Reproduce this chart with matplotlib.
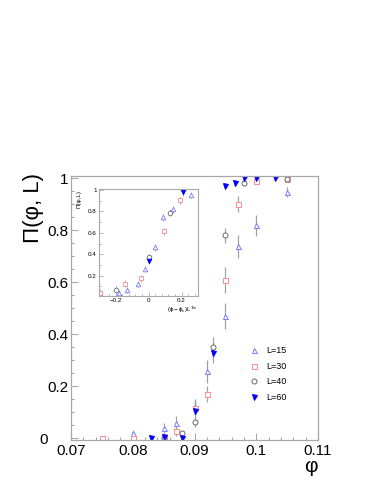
import matplotlib
matplotlib.use("Agg")
import matplotlib.pyplot as plt
from matplotlib.ticker import MultipleLocator, FixedLocator
from matplotlib.transforms import ScaledTranslation

plt.rcParams['font.family'] = ['Liberation Sans', 'DejaVu Sans']
plt.rcParams['mathtext.fontset'] = 'custom'
plt.rcParams['mathtext.rm'] = 'Liberation Sans'
plt.rcParams['mathtext.it'] = 'Liberation Sans'

# ---- main plot data ----
x_L15 = [0.075, 0.080, 0.085, 0.087, 0.090, 0.092, 0.095, 0.097, 0.100, 0.105]
y_L15 = [0.0, 0.02, 0.04, 0.06, 0.12, 0.258, 0.47, 0.738, 0.818, 0.947]
e_L15 = [0.005, 0.012, 0.02, 0.025, 0.03, 0.045, 0.05, 0.045, 0.04, 0.02]

x_L30 = [0.075, 0.080, 0.085, 0.087, 0.090, 0.092, 0.095, 0.097, 0.100, 0.105]
y_L30 = [0.0, 0.0, 0.01, 0.03, 0.117, 0.17, 0.61, 0.90, 0.99, 0.996]
e_L30 = [0.003, 0.003, 0.01, 0.02, 0.03, 0.03, 0.05, 0.03, 0.01, 0.005]

x_L40 = [0.085, 0.088, 0.090, 0.093, 0.095, 0.098, 0.105]
y_L40 = [0.0, 0.02, 0.063, 0.35, 0.78, 0.98, 0.996]
e_L40 = [0.003, 0.01, 0.02, 0.04, 0.03, 0.01, 0.005]

x_L60 = [0.083, 0.085, 0.088, 0.090, 0.093, 0.095, 0.0965, 0.098, 0.100, 0.103]
y_L60 = [0.0, 0.005, 0.0, 0.105, 0.33, 0.97, 0.98, 1.0, 1.0, 1.0]
e_L60 = [0.002, 0.005, 0.003, 0.03, 0.04, 0.01, 0.01, 0.003, 0.002, 0.002]

# ---- inset (scaling collapse) data ----
ix_L15 = [-0.294, -0.177, -0.132, -0.065, -0.023, 0.041, 0.088, 0.148, 0.258]
iy_L15 = [0.035, 0.04, 0.064, 0.12, 0.26, 0.465, 0.745, 0.82, 0.956]
ix_L30 = [-0.294, -0.145, -0.047, 0.092, 0.19]
iy_L30 = [0.035, 0.125, 0.175, 0.614, 0.904]
ix_L40 = [-0.2, 0.0, 0.132]
iy_L40 = [0.07, 0.37, 0.79]
ix_L60 = [0.0, 0.207]
iy_L60 = [0.337, 0.978]

labels = ["L=15", "L=30", "L=40", "L=60"]
colors = ["#7878ff", "#ff8a8a", "#6a6a6a", "#0000ff"]
markers = ["^", "s", "o", "v"]
filled = [False, False, False, True]
ecol = "#a0a0a0"
framecol = "#a8a8a8"

fig = plt.figure(figsize=(3.82, 4.94), dpi=100)
ax = fig.add_axes([71/382, 1-440/494, 247/382, 264/494])

series = [(x_L15, y_L15, e_L15), (x_L30, y_L30, e_L30),
          (x_L40, y_L40, e_L40), (x_L60, y_L60, e_L60)]
handles = []
for (xs, ys, es), lab, c, m, f in zip(series, labels, colors, markers, filled):
    ax.errorbar(xs, ys, yerr=es, fmt="none", ecolor=ecol, elinewidth=0.9, capsize=0, zorder=1)
    h, = ax.plot(xs, ys, linestyle="none", marker=m, ms=3.6, mew=0.7,
                 mec=c, mfc=(c if f else "white"), label=lab, zorder=2)
    handles.append(h)

ax.set_xlim(0.07, 0.11)
ax.set_ylim(-0.006, 1.008)
ax.xaxis.set_major_locator(FixedLocator([0.07, 0.08, 0.09, 0.10, 0.11]))
ax.set_xticklabels(["0.07", "0.08", "0.09", "0.1", "0.11"])
ax.xaxis.set_minor_locator(MultipleLocator(0.002))
ax.yaxis.set_major_locator(FixedLocator([0, 0.2, 0.4, 0.6, 0.8, 1.0]))
ax.set_yticklabels(["0", "0.2", "0.4", "0.6", "0.8", "1"])
ax.yaxis.set_minor_locator(MultipleLocator(0.05))
ax.tick_params(which="both", direction="in", color=framecol, top=False, right=False,
               labelsize=11)
ax.tick_params(which="major", length=5, width=0.8, pad=2)
ax.tick_params(axis="x", which="major", pad=3)
ax.tick_params(which="minor", length=2.5, width=0.8)
for s in ax.spines.values():
    s.set_color(framecol)
    s.set_linewidth(0.9)

# shift the "0" y tick label left (as in the reference, it sits left of the others)
zero_lab = ax.get_yticklabels()[0]
zero_lab.set_transform(zero_lab.get_transform() + ScaledTranslation(-0.2, 0.0, fig.dpi_scale_trans))

fig.text(33/382, 1-208/494, "Π(φ, L)", rotation=90, ha="center", va="center", fontsize=16)
fig.text(318/382, 1-466/494, "φ", ha="right", va="center", fontsize=15)

leg = ax.legend(handles=handles, loc="upper left", bbox_to_anchor=(0.71, 0.37),
                frameon=False, fontsize=6.5, handlelength=1.0, handletextpad=0.8,
                labelspacing=0.75, borderaxespad=0)

# ---- inset ----
ins = fig.add_axes([99/382, 1-296/494, 99/382, 107/494])
iseries = [(ix_L15, iy_L15), (ix_L30, iy_L30), (ix_L40, iy_L40), (ix_L60, iy_L60)]
for (xs, ys), c, m, f in zip(iseries, colors, markers, filled):
    ins.errorbar(xs, ys, yerr=[0.03]*len(xs), fmt="none", ecolor=ecol, elinewidth=0.7,
                 capsize=0, zorder=1)
    ins.plot(xs, ys, linestyle="none", marker=m, ms=3.3, mew=0.6,
             mec=c, mfc=(c if f else "white"), zorder=2)
ins.set_xlim(-0.3, 0.3)
ins.set_ylim(0.01, 1.01)
ins.xaxis.set_major_locator(FixedLocator([-0.2, 0.0, 0.2]))
ins.set_xticklabels(["−0.2", "0", "0.2"])
ins.xaxis.set_minor_locator(MultipleLocator(0.04))
ins.yaxis.set_major_locator(FixedLocator([0.2, 0.4, 0.6, 0.8, 1.0]))
ins.set_yticklabels(["0.2", "0.4", "0.6", "0.8", "1"])
ins.yaxis.set_minor_locator(MultipleLocator(0.1))
ins.tick_params(which="both", direction="in", color=framecol, top=False, right=False,
                labelsize=4.5)
ins.tick_params(which="major", length=3, width=0.6, pad=1.5)
ins.tick_params(which="minor", length=1.5, width=0.6)
for s in ins.spines.values():
    s.set_color(framecol)
    s.set_linewidth(0.8)
fig.text(79/382, 1-190/494, "Π(φ,L)", rotation=90, ha="center", va="top", fontsize=4.5)
fig.text(198/382, 1-310/494, r"$(\phi-\phi_c)L^{1/\nu}$", ha="right", va="center", fontsize=4.5)

fig.savefig("out.png", dpi=100)
